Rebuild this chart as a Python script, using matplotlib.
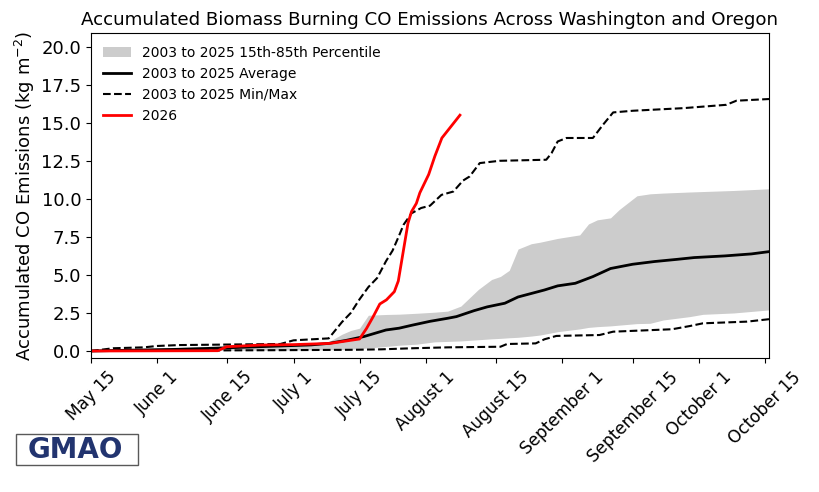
import numpy as np
import matplotlib
matplotlib.use("Agg")
import matplotlib.pyplot as plt
from matplotlib.patches import Rectangle

# x = days since May 15
tick_days = [0, 15, 31, 46, 61, 76, 92, 107, 123, 138, 153]
tick_names = ["May 15", "June 1", "June 15", "July 1", "July 15", "August 1",
              "August 15", "September 1", "September 15", "October 1", "October 15"]

# 15th-85th percentile band
days_band = [0, 10, 20, 30, 40, 48, 54, 57, 59, 61, 63, 67, 70, 74, 78, 81, 84, 86, 88, 91,
             93, 95, 97, 100, 102, 106, 111, 113, 115, 118, 120, 124, 127, 130, 136, 139, 146, 154]
band_hi = [0, 0.12, 0.25, 0.33, 0.38, 0.42, 0.6, 1.1, 1.35, 1.5, 2.35, 2.4, 2.42, 2.48, 2.55, 2.62, 2.95, 3.5, 4.05, 4.7,
           4.9, 5.3, 6.7, 7.05, 7.15, 7.4, 7.63, 8.35, 8.62, 8.75, 9.3, 10.2, 10.33, 10.38, 10.45, 10.48, 10.55, 10.66]
band_lo = [0, 0.02, 0.04, 0.05, 0.06, 0.07, 0.09, 0.1, 0.12, 0.15, 0.2, 0.3, 0.38, 0.45, 0.6, 0.63, 0.66, 0.7, 0.74, 0.8,
           0.83, 0.87, 0.9, 0.98, 1.05, 1.27, 1.45, 1.55, 1.6, 1.65, 1.7, 1.8, 1.82, 2.04, 2.26, 2.41, 2.5, 2.7]

# 2003-2025 average
days_avg = [0, 10, 20, 30, 43, 50, 54, 58, 62, 67, 70, 73, 77, 81, 83, 87, 90, 94, 97, 100,
            103, 106, 110, 114, 118, 123, 128, 133, 137, 144, 150, 154]
avg = [0, 0.06, 0.11, 0.2, 0.33, 0.4, 0.5, 0.7, 0.95, 1.38, 1.5, 1.7, 1.95, 2.15, 2.26, 2.65, 2.9, 3.14, 3.55, 3.78,
       4.01, 4.28, 4.45, 4.89, 5.42, 5.7, 5.88, 6.02, 6.14, 6.25, 6.38, 6.53]

# 2003-2025 max
days_max = [0, 5, 12, 15, 20, 43, 46, 54, 57, 59, 61, 63, 65, 67, 68.5, 70, 71, 72.8, 75, 77,
            79.6, 82.3, 84.5, 86, 88.3, 92.8, 103.4, 104.6, 106, 108, 114, 116.3, 118.6, 123.1, 134.5, 144.3, 146.6, 154]
vmax = [0, 0.18, 0.24, 0.33, 0.39, 0.46, 0.7, 0.83, 1.9, 2.5, 3.4, 4.2, 4.8, 5.9, 6.6, 7.6, 8.3, 9.05, 9.4, 9.55,
        10.26, 10.48, 11.2, 11.47, 12.35, 12.5, 12.57, 13.0, 13.77, 14.0, 14.0, 14.87, 15.68, 15.79, 15.96, 16.18, 16.45, 16.56]

# 2003-2025 min
days_min = [0, 20, 40, 60, 66, 73, 81, 93, 94.5, 101, 103, 105.7, 115.5, 118.6, 132, 136, 139, 149, 154]
vmin = [0, 0.03, 0.05, 0.08, 0.11, 0.18, 0.24, 0.28, 0.46, 0.5, 0.77, 0.99, 1.05, 1.27, 1.43, 1.64, 1.82, 1.93, 2.09]

# 2026
days_2026 = [0, 28.8, 30.8, 38.4, 46, 54.3, 58, 61, 62.6, 64.1, 65.6, 67.1, 68.9, 69.8, 70.9, 72, 72.8, 73.9,
             74.7, 76.7, 78.1, 79.7, 83.8]
val_2026 = [0, 0.02, 0.28, 0.39, 0.42, 0.5, 0.66, 0.79, 1.49, 2.26, 3.09, 3.36, 3.9, 4.6, 6.5, 8.4, 9.16, 9.7,
            10.4, 11.6, 12.8, 14.0, 15.5]

fig = plt.figure(figsize=(8.2, 4.92), dpi=100)
ax = fig.add_axes([91/820, 1-358.3/492, (769-91)/820, (358.3-33.3)/492])

ax.fill_between(days_band, band_lo, band_hi, color="0.8", lw=0, label="2003 to 2025 15th-85th Percentile")
ax.plot(days_avg, avg, "k-", lw=2, label="2003 to 2025 Average")
ax.plot(days_max, vmax, "k--", lw=1.5, label="2003 to 2025 Min/Max")
ax.plot(days_min, vmin, "k--", lw=1.5)
ax.plot(days_2026, val_2026, "r-", lw=2, label="2026")

ax.set_xlim(0, 154)
ax.set_ylim(-0.48, 20.88)
ax.set_xticks(tick_days)
ax.set_xticklabels(tick_names, rotation=45, fontsize=12.2)
ax.tick_params(axis="y", labelsize=13)
ax.set_ylabel(r"Accumulated CO Emissions (kg m$^{-2}$)", fontsize=13, labelpad=3)
ax.set_title("Accumulated Biomass Burning CO Emissions Across Washington and Oregon", fontsize=13.15)
ax.legend(loc="upper left", frameon=False, fontsize=10)

# logo
fig.patches.append(Rectangle((16/820, 1-465/492), 122/820, 31/492, transform=fig.transFigure,
                             fill=False, ec="0.35", lw=1))
fig.text(75/820, 1-449.5/492, "GMAO", ha="center", va="center", fontsize=20,
         fontweight="bold", color="#22346f")

fig.savefig("out.png", dpi=100)
